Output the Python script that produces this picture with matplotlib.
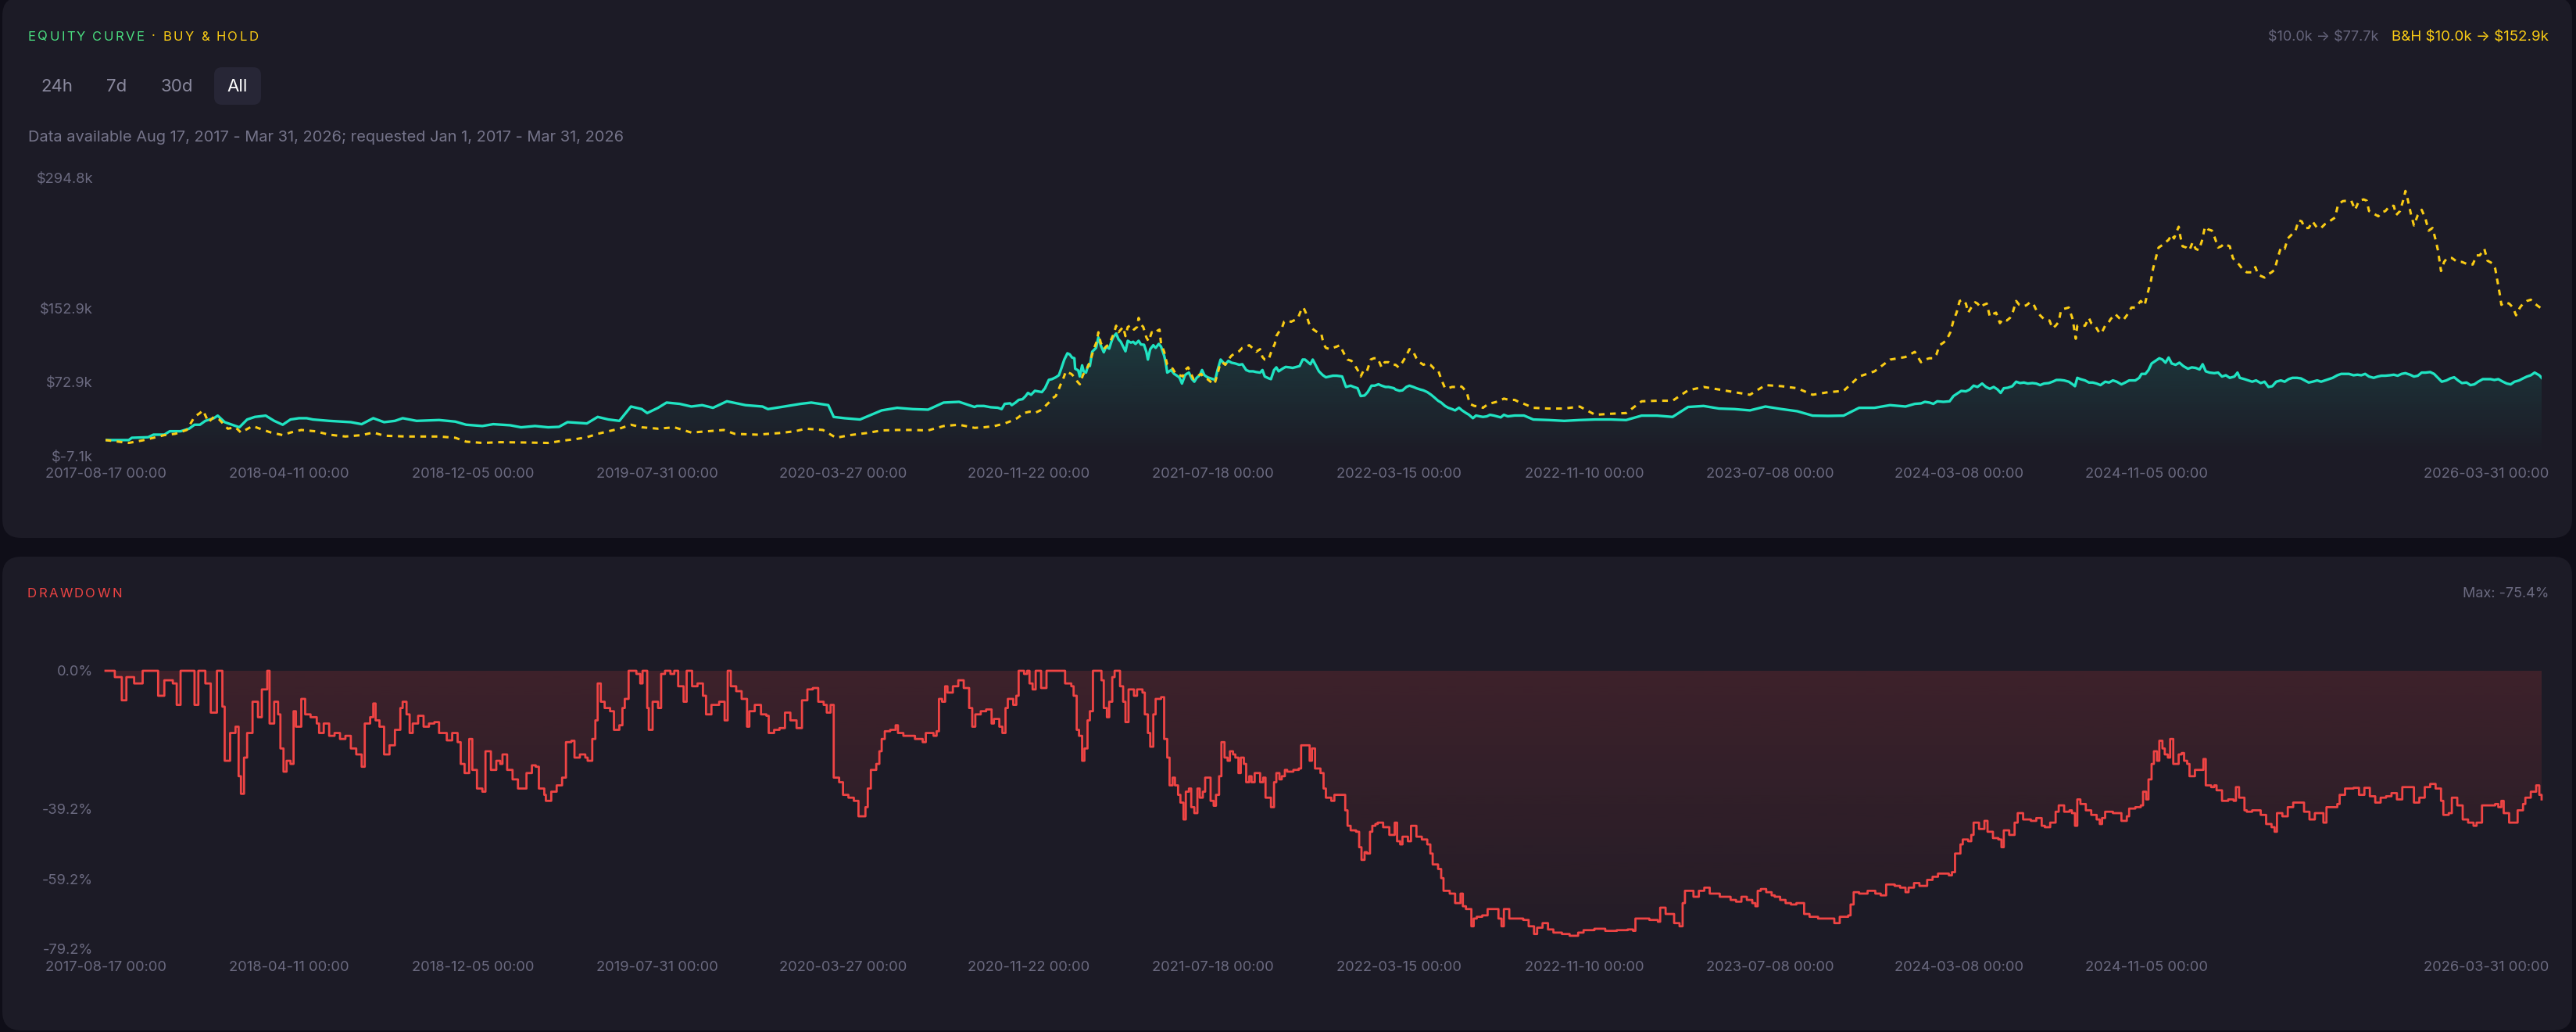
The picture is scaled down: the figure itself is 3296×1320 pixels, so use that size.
import numpy as np
import pandas as pd
import matplotlib
matplotlib.use("Agg")
import matplotlib.pyplot as plt
import matplotlib.dates as mdates
import matplotlib.colors as mcolors
from matplotlib.patches import FancyBboxPatch
from matplotlib.transforms import ScaledTranslation

plt.rcParams['font.family'] = ['Inter', 'DejaVu Sans']

# ---------------- data ----------------
START = "2017-08-17"
END = "2026-03-31"

# strategy equity: (days since START, value in $k)
strategy_points = [
    (0, 10.0), (30, 10.0), (34, 12.5), (55, 13.1), (62, 15.9), (76, 15.9), (83, 19.6),
    (97, 19.6), (108, 22.4), (115, 26.7), (122, 26.7), (129, 30.9), (140, 33.8), (145, 36.6),
    (154, 29.5), (173, 23.9), (183, 32.4), (193, 35.2), (207, 36.6), (218, 30.9), (229, 26.7),
    (239, 32.4), (250, 33.8), (260, 33.8), (268, 32.4), (289, 30.9), (317, 29.5), (331, 27.3),
    (346, 33.8), (360, 29.5), (374, 30.9), (384, 33.8), (402, 30.9), (431, 31.8), (452, 30.1),
    (466, 26.7), (487, 25.3), (501, 27.3), (523, 26.1), (537, 23.9), (555, 25.3), (572, 23.9),
    (586, 24.4), (597, 29.5), (622, 28.1), (636, 35.2), (650, 32.4), (664, 30.9), (679, 46.5),
    (693, 43.7), (700, 39.4), (714, 45.1), (725, 50.8), (742, 49.4), (757, 46.5), (771, 48.0),
    (785, 45.1), (803, 52.2), (827, 48.0), (849, 46.5), (856, 43.7), (877, 46.5), (898, 49.4),
    (912, 50.8), (934, 48.0), (941, 35.2), (955, 33.8), (975, 32.4),
    (1003, 42.3), (1023, 45.1), (1043, 43.7), (1063, 43.1), (1083, 50.8),
    (1103, 51.6), (1123, 46.0),
    (1126, 47.1), (1135, 47.1), (1144, 45.7), (1153, 45.2), (1158, 43.7), (1162, 49.4),
    (1169, 50.0), (1171, 48.0), (1176, 50.8), (1180, 53.7), (1185, 54.5), (1189, 57.9),
    (1192, 61.3), (1196, 59.3), (1201, 63.6), (1205, 63.0), (1210, 62.2), (1214, 66.4),
    (1219, 75.5), (1223, 76.3), (1228, 78.3), (1232, 80.6), (1235, 87.7), (1239, 97.6),
    (1243, 104.4), (1246, 103.2), (1249, 99.8), (1252, 99.0), (1253, 87.7), (1257, 85.7),
    (1259, 79.2), (1262, 91.3), (1264, 84.8), (1267, 83.4), (1270, 91.9), (1272, 90.5),
    (1275, 106.1), (1280, 110.3), (1283, 121.7), (1286, 113.2), (1290, 105.5), (1293, 111.7),
    (1297, 109.5), (1300, 117.4), (1302, 121.7), (1306, 125.9), (1309, 119.7), (1312, 116.9),
    (1315, 111.7), (1318, 106.6), (1321, 118.0), (1325, 116.0), (1328, 116.9), (1331, 114.6),
    (1335, 118.0), (1338, 114.0), (1342, 113.7), (1345, 106.1), (1347, 97.6), (1350, 108.9),
    (1354, 113.2), (1357, 110.3), (1361, 114.6), (1364, 111.7), (1368, 101.8), (1370, 94.7),
    (1372, 83.4), (1377, 86.2), (1381, 82.0), (1386, 79.2), (1388, 77.7), (1391, 71.5),
    (1395, 80.6), (1397, 82.0), (1400, 83.4), (1404, 76.3), (1407, 73.5), (1410, 77.7),
    (1414, 80.6), (1417, 86.2), (1420, 80.6), (1424, 78.3), (1428, 77.2), (1431, 76.3),
    (1434, 75.5), (1437, 86.2), (1441, 97.6), (1444, 94.7), (1447, 92.5), (1451, 96.2),
    (1455, 94.2), (1460, 93.3), (1465, 91.9), (1469, 92.5), (1474, 86.2), (1478, 84.8),
    (1483, 84.8), (1487, 84.0), (1492, 83.4), (1495, 86.2), (1498, 79.2), (1503, 77.2),
    (1506, 76.3), (1510, 86.2), (1513, 89.1), (1516, 84.8), (1521, 87.7), (1525, 89.6),
    (1530, 89.1), (1534, 88.5), (1539, 89.6), (1543, 90.5), (1547, 97.6), (1550, 97.6),
    (1554, 94.7), (1557, 92.5), (1560, 97.6), (1564, 91.3), (1568, 84.8), (1573, 80.6),
    (1577, 78.3), (1582, 79.2), (1586, 80.0), (1591, 80.0), (1598, 79.2), (1603, 67.8),
    (1609, 69.2), (1613, 67.8), (1618, 66.4), (1622, 57.9), (1627, 58.5), (1631, 62.2),
    (1636, 69.2), (1640, 69.2), (1645, 70.7), (1649, 69.2), (1654, 67.8), (1658, 67.8),
    (1665, 66.4), (1667, 65.0), (1672, 63.6), (1676, 64.1), (1681, 67.8), (1685, 69.2),
    (1690, 67.8), (1694, 66.4), (1699, 65.0), (1703, 64.1), (1708, 62.2), (1713, 59.3),
    (1717, 56.5), (1722, 52.8), (1726, 50.8), (1731, 47.1), (1735, 45.2), (1740, 43.7),
    (1744, 42.3), (1749, 45.2), (1753, 42.3), (1758, 39.5), (1762, 37.5), (1767, 33.8),
    (1771, 36.7), (1776, 35.8), (1780, 35.2), (1785, 35.8), (1789, 37.5), (1794, 36.7),
    (1798, 35.8), (1803, 34.7), (1807, 37.5), (1812, 35.8), (1821, 36.7), (1833, 36.7),
    (1845, 32.4), (1865, 31.8), (1885, 30.9), (1905, 31.8), (1925, 32.4), (1945, 32.4),
    (1965, 31.8), (1985, 36.6), (2005, 36.6), (2025, 35.2), (2045, 46.0), (2065, 47.1),
    (2085, 44.3), (2105, 43.7), (2125, 42.3), (2145, 46.5), (2166, 43.7), (2186, 41.4),
    (2206, 36.6), (2226, 36.3), (2246, 36.6), (2266, 45.1), (2286, 45.1), (2306, 48.0),
    (2326, 46.5),
    (2338, 49.4), (2346, 49.9), (2351, 51.6), (2357, 50.8), (2362, 49.4), (2367, 52.2),
    (2375, 51.6), (2383, 52.2), (2388, 57.9), (2393, 60.7), (2398, 63.5), (2404, 63.0),
    (2409, 65.0), (2414, 69.2), (2419, 67.8), (2425, 71.5), (2430, 67.8), (2435, 65.8),
    (2440, 67.8), (2445, 65.0), (2449, 61.3), (2453, 66.4), (2458, 66.9), (2464, 68.6),
    (2469, 73.5), (2474, 72.0), (2479, 72.6), (2484, 71.5), (2490, 72.0), (2495, 71.5),
    (2500, 69.8), (2505, 71.5), (2511, 72.0), (2516, 73.5), (2521, 75.4), (2526, 75.4),
    (2531, 74.9), (2537, 73.5), (2542, 70.6), (2545, 68.6), (2548, 77.7), (2552, 76.3),
    (2558, 74.9), (2563, 72.6), (2568, 72.6), (2573, 71.5), (2578, 69.8), (2584, 73.5),
    (2589, 72.6), (2594, 74.9), (2599, 73.5), (2605, 70.6), (2610, 72.6), (2615, 74.9),
    (2623, 74.9), (2628, 77.7), (2631, 82.0), (2636, 82.0), (2640, 86.2), (2644, 93.3),
    (2649, 96.1), (2654, 99.0), (2658, 97.6), (2662, 94.2), (2666, 99.8), (2670, 93.3),
    (2675, 91.9), (2680, 94.2), (2685, 90.5), (2691, 87.6), (2696, 89.1), (2701, 88.5),
    (2706, 86.8), (2710, 92.5), (2714, 84.8), (2719, 83.4), (2725, 82.8), (2730, 83.4),
    (2735, 79.1), (2740, 80.5), (2745, 77.7), (2751, 79.1), (2755, 83.4), (2758, 77.7),
    (2764, 76.3), (2769, 74.9), (2774, 73.5), (2779, 74.9), (2785, 72.0), (2790, 73.5),
    (2795, 67.8), (2800, 68.6), (2805, 73.5), (2811, 74.9), (2816, 73.5), (2821, 76.3),
    (2826, 77.7), (2832, 77.7), (2837, 77.1), (2842, 74.9), (2847, 72.6), (2852, 73.5),
    (2858, 74.9), (2863, 73.5), (2868, 74.9), (2873, 76.3), (2878, 77.7), (2884, 80.5),
    (2889, 82.0), (2894, 82.0), (2899, 82.0), (2905, 80.5), (2910, 81.1), (2915, 80.5),
    (2920, 82.0), (2925, 79.1), (2931, 77.7), (2936, 79.1), (2941, 80.0), (2946, 80.0),
    (2952, 80.5), (2957, 81.1), (2962, 80.0), (2967, 82.0), (2972, 82.8), (2978, 81.1),
    (2983, 79.1), (2988, 80.0), (2993, 83.4), (2998, 83.4), (3004, 84.0), (3009, 82.0),
    (3014, 77.7), (3019, 73.5), (3025, 74.9), (3030, 77.1), (3035, 78.3), (3040, 74.9),
    (3045, 72.0), (3051, 72.6), (3056, 69.8), (3061, 70.6), (3066, 73.5), (3072, 76.3),
    (3077, 76.3), (3082, 76.3), (3087, 75.4), (3092, 76.3), (3098, 73.5), (3103, 71.5),
    (3108, 70.6), (3113, 73.5), (3119, 74.9), (3124, 77.1), (3129, 79.1), (3134, 80.5),
    (3139, 83.4), (3145, 80.5), (3148, 77.7),
]

# buy & hold equity: (days since START, value in $k)
buy_hold_points = [
    (0, 10.0), (30, 6.9), (48, 9.7), (62, 12.5), (76, 15.4), (90, 16.8), (105, 21.0),
    (115, 35.2), (122, 39.4), (126, 42.3), (133, 29.5), (140, 35.2), (147, 32.4), (158, 22.4),
    (168, 23.9), (175, 18.2), (190, 25.3), (204, 21.0), (214, 18.2), (229, 15.4), (239, 18.2),
    (253, 21.0), (271, 19.6), (289, 15.9), (310, 13.9), (331, 15.4), (346, 18.2), (360, 14.8),
    (388, 13.9), (431, 13.9), (452, 12.5), (466, 8.3), (487, 6.9), (510, 7.7), (540, 7.4),
    (572, 6.9), (594, 9.7), (608, 11.1), (622, 13.1), (636, 16.8), (650, 19.6), (664, 22.4),
    (679, 26.7), (693, 23.9), (714, 22.4), (735, 23.9), (757, 18.2), (778, 19.6), (799, 21.0),
    (813, 16.8), (842, 15.9), (870, 17.6), (891, 19.6), (905, 22.4), (927, 21.0), (944, 12.5),
    (962, 15.4),
    (983, 17.6), (1003, 20.5), (1023, 21.0), (1043, 21.0), (1063, 20.5),
    (1083, 25.3), (1103, 26.7), (1123, 23.3),
    (1135, 23.9), (1149, 25.3), (1162, 28.1), (1171, 31.0), (1178, 33.8), (1187, 39.5),
    (1194, 40.9), (1201, 39.5), (1208, 42.3), (1214, 46.6), (1219, 50.8), (1223, 55.1),
    (1228, 57.9), (1231, 63.6), (1235, 72.1), (1238, 77.7), (1241, 84.8), (1244, 83.4),
    (1248, 82.0), (1253, 77.7), (1256, 73.5), (1259, 70.7), (1263, 80.6), (1266, 84.8),
    (1270, 90.5), (1273, 97.6), (1277, 108.9), (1281, 117.4), (1283, 127.3), (1286, 116.0),
    (1290, 108.9), (1293, 111.7), (1297, 114.6), (1300, 120.3), (1303, 125.9), (1306, 134.4),
    (1309, 127.3), (1312, 130.2), (1315, 133.0), (1318, 123.1), (1321, 133.0), (1325, 135.0),
    (1329, 130.2), (1333, 133.0), (1335, 142.9), (1338, 135.8), (1341, 133.0), (1345, 121.7),
    (1348, 117.4), (1352, 127.3), (1355, 125.9), (1359, 128.8), (1362, 130.2), (1364, 114.6),
    (1368, 106.1), (1370, 99.0), (1372, 91.9), (1375, 89.1), (1379, 87.7), (1383, 82.0),
    (1388, 80.6), (1392, 79.2), (1395, 86.2), (1399, 89.1), (1402, 83.4), (1406, 76.3),
    (1410, 77.7), (1413, 80.6), (1416, 82.0), (1419, 77.7), (1424, 76.3), (1428, 73.5),
    (1433, 70.7), (1437, 82.0), (1440, 91.9), (1443, 94.7), (1447, 91.9), (1451, 97.6),
    (1455, 101.8), (1460, 104.7), (1465, 106.7), (1469, 110.3), (1474, 111.7), (1478, 113.2),
    (1483, 109.5), (1487, 106.1), (1492, 108.9), (1495, 100.4), (1498, 97.6), (1503, 97.6),
    (1507, 107.5), (1511, 114.6), (1513, 123.1), (1516, 127.3), (1520, 131.6), (1523, 138.7),
    (1528, 140.1), (1532, 138.7), (1537, 140.7), (1541, 142.9), (1545, 151.4), (1548, 154.3),
    (1551, 148.6), (1555, 137.3), (1558, 133.0), (1561, 130.2), (1566, 127.3), (1571, 125.9),
    (1574, 114.6), (1577, 110.3), (1582, 108.9), (1586, 110.3), (1591, 111.7), (1595, 113.2),
    (1601, 103.2), (1605, 97.6), (1610, 96.2), (1614, 91.9), (1619, 84.8), (1622, 79.2),
    (1626, 86.2), (1630, 84.8), (1635, 97.6), (1639, 99.0), (1644, 99.0), (1649, 89.1),
    (1653, 94.7), (1658, 94.7), (1662, 91.9), (1667, 91.9), (1671, 89.1), (1676, 94.7),
    (1680, 100.4), (1685, 108.9), (1689, 107.5), (1694, 99.0), (1698, 94.7), (1703, 91.9),
    (1707, 93.3), (1712, 91.9), (1717, 87.7), (1722, 86.2), (1726, 76.3), (1731, 66.4),
    (1735, 66.4), (1740, 67.8), (1744, 67.8), (1749, 69.2), (1753, 67.8), (1759, 62.2),
    (1763, 49.4), (1769, 47.1), (1776, 46.6), (1780, 45.1), (1787, 49.4), (1794, 50.8),
    (1800, 52.2), (1807, 55.1), (1814, 53.7), (1821, 53.7), (1828, 50.8), (1833, 49.4),
    (1845, 45.1), (1865, 44.3), (1885, 44.3), (1905, 46.5), (1925, 37.5), (1945, 38.6),
    (1965, 39.4), (1985, 52.2), (2005, 52.8), (2025, 52.8), (2045, 64.1), (2065, 67.8),
    (2085, 65.0), (2105, 62.1), (2125, 59.3), (2145, 69.8), (2166, 68.6), (2186, 66.4),
    (2206, 59.3), (2226, 62.1), (2246, 63.5), (2266, 79.1), (2286, 84.8), (2306, 97.5),
    (2326, 100.4),
    (2338, 106.0), (2343, 99.0), (2346, 94.7), (2351, 97.5), (2357, 99.0), (2362, 99.0),
    (2366, 103.2), (2370, 113.1), (2375, 116.0), (2379, 118.8), (2384, 127.3), (2388, 140.1),
    (2392, 148.6), (2396, 161.3), (2400, 162.7), (2404, 158.5), (2407, 148.6), (2411, 154.2),
    (2416, 159.9), (2419, 158.5), (2423, 154.2), (2427, 157.1), (2431, 158.5), (2435, 144.3),
    (2439, 147.1), (2443, 148.6), (2448, 137.2), (2452, 141.5), (2457, 140.1), (2461, 142.9),
    (2465, 150.0), (2469, 161.3), (2473, 157.1), (2477, 155.6), (2482, 156.5), (2487, 159.9),
    (2491, 158.5), (2495, 151.4), (2500, 145.7), (2505, 141.5), (2512, 140.1), (2516, 131.6),
    (2520, 134.4), (2524, 138.6), (2527, 151.4), (2531, 152.8), (2537, 154.2), (2542, 141.5),
    (2546, 120.2), (2548, 134.4), (2552, 134.4), (2558, 134.4), (2563, 142.9), (2566, 137.2),
    (2571, 134.4), (2576, 127.3), (2579, 125.9), (2584, 134.4), (2588, 137.2), (2591, 141.5),
    (2597, 147.1), (2602, 142.9), (2607, 140.1), (2612, 145.7), (2618, 154.2), (2623, 154.2),
    (2630, 161.3), (2635, 156.5), (2638, 167.0), (2643, 182.6), (2646, 196.7), (2650, 209.5),
    (2653, 219.4), (2658, 222.2), (2662, 225.1), (2666, 227.9), (2670, 233.6), (2673, 229.3),
    (2679, 242.1), (2681, 232.2), (2684, 220.8), (2689, 219.4), (2693, 216.6), (2697, 225.1),
    (2701, 218.0), (2705, 216.6), (2709, 226.5), (2713, 242.1), (2717, 239.2), (2722, 237.8),
    (2726, 229.3), (2730, 219.4), (2734, 220.8), (2738, 223.7), (2741, 222.2), (2745, 220.8),
    (2749, 208.1), (2753, 203.8), (2757, 201.0), (2762, 195.3), (2767, 192.5), (2773, 192.5),
    (2778, 198.2), (2782, 189.7), (2786, 188.2), (2790, 186.8), (2793, 189.7), (2799, 192.5),
    (2803, 195.3), (2807, 208.1), (2811, 219.4), (2816, 218.0), (2820, 229.3), (2825, 233.6),
    (2830, 237.8), (2834, 249.2), (2838, 247.8), (2842, 240.7), (2847, 240.7), (2852, 247.8),
    (2858, 240.7), (2863, 240.7), (2868, 244.9), (2872, 246.3), (2876, 249.2), (2881, 252.0),
    (2885, 266.2), (2891, 269.9), (2897, 270.4), (2902, 270.4), (2907, 260.5), (2912, 270.4),
    (2918, 271.8), (2922, 270.4), (2925, 259.1), (2931, 256.3), (2937, 253.4), (2941, 257.7),
    (2946, 259.1), (2952, 264.8), (2957, 264.8), (2960, 254.8), (2965, 259.1), (2970, 273.3),
    (2972, 281.0), (2975, 271.8), (2979, 256.3), (2983, 243.5), (2988, 254.8), (2993, 260.5),
    (2998, 250.6), (3002, 237.8), (3007, 240.7), (3011, 227.9), (3014, 216.6), (3018, 193.9),
    (3022, 203.8), (3026, 208.1), (3032, 208.1), (3039, 203.8), (3045, 203.8), (3053, 201.0),
    (3059, 201.0), (3064, 210.9), (3068, 210.9), (3074, 218.0), (3078, 205.2), (3084, 202.4),
    (3088, 196.7), (3091, 182.6), (3094, 168.4), (3096, 157.1), (3100, 159.9), (3106, 158.5),
    (3111, 154.2), (3115, 145.7), (3120, 154.2), (3124, 158.5), (3129, 161.3), (3134, 162.7),
    (3139, 158.5), (3148, 152.9),
]

# drawdown: (days since START, drawdown %)
drawdown_points = [
    (0, 0.0), (12, -1.8), (21, -8.4), (27, -1.8), (37, -3.6), (48, 0.0), (62, 0.0),
    (68, -7.1), (76, -2.7), (87, -3.6), (92, -9.7), (97, 0.0), (112, 0.0), (115, -9.7),
    (120, 0.0), (129, -3.6), (136, -11.9), (144, 0.0), (151, -10.2), (154, -25.6),
    (161, -17.7), (168, -15.9), (172, -30.0), (175, -35.0), (179, -24.7), (183, -17.7),
    (190, -8.8), (197, -13.2), (202, -5.3), (209, 0.0), (212, -15.0), (218, -8.8),
    (223, -12.4), (226, -22.1), (230, -28.7), (234, -25.6), (239, -26.5), (243, -11.5),
    (246, -15.9), (253, -8.0), (258, -12.4), (265, -13.2), (273, -15.0), (276, -17.7),
    (282, -15.0), (289, -18.5), (296, -17.7), (303, -19.4), (310, -18.5), (317, -22.1),
    (324, -23.8), (331, -27.3), (335, -15.0), (342, -13.2), (346, -9.3), (349, -14.1),
    (354, -15.9), (360, -23.8), (367, -21.2), (374, -16.8), (381, -10.6), (384, -8.8),
    (389, -12.4), (393, -17.7), (397, -15.0), (404, -12.8), (411, -15.9), (418, -15.0),
    (425, -14.6), (431, -17.7), (441, -19.8), (448, -17.7), (455, -20.3), (459, -26.5),
    (464, -29.1), (470, -19.4), (474, -28.2), (480, -33.5), (487, -34.4), (491, -22.9),
    (498, -28.2), (505, -25.6), (510, -26.5), (513, -23.8), (519, -28.2), (526, -30.9),
    (533, -33.5), (544, -29.1), (551, -26.9), (556, -27.3), (560, -33.5), (567, -35.3),
    (569, -37.0), (576, -34.4), (583, -32.6), (590, -30.4), (595, -20.3), (602, -19.9),
    (606, -24.7), (613, -23.8), (620, -24.7), (623, -25.6), (629, -19.4), (633, -14.1),
    (636, -3.6), (640, -8.8), (645, -10.6), (652, -11.5), (657, -16.8), (664, -15.5),
    (668, -10.6), (671, -8.0), (676, 0.0), (686, -0.9), (691, -3.6), (694, 0.0),
    (700, -10.6), (702, -16.8), (707, -8.8), (714, -10.6), (718, -0.9), (723, 0.0),
    (730, -0.9), (735, 0.0), (740, -4.4), (747, -8.8), (751, 0.0), (758, -4.4),
    (765, -3.6), (772, -7.1), (776, -12.4), (783, -9.7), (793, -8.8), (800, -14.1),
    (804, 0.0), (808, -4.4), (815, -5.8), (822, -8.0), (829, -15.9), (832, -11.5),
    (839, -9.7), (847, -12.4), (854, -12.8), (857, -17.7), (864, -16.8), (871, -16.3),
    (878, -11.9), (885, -14.1), (893, -16.3), (900, -8.4), (907, -5.3), (914, -4.9),
    (921, -8.8), (928, -9.7), (932, -11.9), (937, -9.7), (941, -30.4), (948, -31.7),
    (953, -35.3), (960, -36.1), (967, -37.0), (973, -41.4),
    (982, -38.8), (985, -33.5), (989, -28.2), (996, -26.5), (1000, -22.9), (1003, -19.4),
    (1007, -17.2), (1014, -16.8), (1021, -15.5), (1024, -17.7), (1031, -18.5), (1046, -19.4),
    (1056, -20.3), (1060, -17.7), (1070, -18.5), (1074, -17.2), (1077, -8.0), (1081, -8.8),
    (1085, -4.4), (1088, -6.2), (1095, -4.4), (1102, -2.7), (1109, -4.9), (1116, -10.6),
    (1120, -15.9), (1124, -12.4), (1131, -11.5), (1138, -11.0), (1145, -15.0), (1148, -13.7),
    (1155, -15.9), (1159, -17.7), (1163, -10.6), (1166, -8.0), (1173, -9.7), (1177, -7.1),
    (1180, 0.0), (1187, -0.9), (1191, 0.0), (1194, -3.6), (1198, -5.3), (1202, 0.0),
    (1209, -4.9), (1216, 0.0), (1237, 0.0), (1240, -3.6), (1248, -4.4), (1251, -7.1),
    (1255, -16.8), (1258, -18.5), (1262, -25.6), (1265, -22.1), (1269, -14.1), (1272, -11.5),
    (1276, 0.0), (1283, 0.0), (1287, -2.7), (1290, -10.6), (1294, -13.2), (1297, -8.8),
    (1301, -1.8), (1304, 0.0), (1308, 0.0), (1311, -4.4), (1315, -8.8), (1318, -14.6),
    (1322, -5.3), (1329, -7.1), (1333, -5.3), (1340, -6.2), (1343, -12.4), (1347, -17.7),
    (1350, -21.6), (1354, -12.4), (1357, -8.0), (1364, -7.5), (1368, -19.4), (1372, -24.7),
    (1375, -32.6), (1379, -30.4), (1382, -32.6), (1386, -35.3), (1389, -37.5), (1393, -42.3),
    (1396, -34.4), (1400, -33.5), (1403, -38.8), (1407, -40.5), (1411, -33.5), (1414, -36.1),
    (1418, -34.4), (1421, -30.4), (1428, -37.0), (1432, -38.4), (1435, -35.3), (1439, -30.0),
    (1442, -20.3), (1446, -24.7), (1450, -25.6), (1453, -22.9), (1457, -23.8), (1460, -24.7),
    (1464, -29.1), (1467, -24.7), (1471, -26.5), (1474, -31.7), (1478, -30.0), (1481, -31.7),
    (1485, -29.1), (1492, -31.7), (1496, -30.4), (1499, -36.1), (1506, -38.8), (1510, -31.7),
    (1513, -29.1), (1517, -30.9), (1520, -30.0), (1524, -28.2), (1527, -28.7), (1535, -28.2),
    (1542, -27.8), (1545, -21.2), (1552, -21.2), (1556, -25.6), (1559, -22.1), (1563, -27.8),
    (1570, -29.1), (1574, -33.5), (1577, -36.1), (1584, -37.0), (1588, -35.3), (1598, -35.3),
    (1602, -39.7), (1605, -44.1), (1609, -45.4), (1616, -45.8), (1620, -50.2), (1623, -53.8),
    (1627, -51.6), (1630, -52.0), (1634, -45.8), (1637, -44.1), (1641, -43.6), (1644, -43.2),
    (1651, -44.5), (1659, -46.7), (1666, -43.2), (1669, -48.5), (1673, -49.4), (1676, -47.2),
    (1683, -48.5), (1687, -44.1), (1694, -47.2), (1701, -48.0), (1708, -49.4), (1712, -52.0),
    (1715, -55.1), (1722, -56.4), (1726, -59.0), (1729, -62.6), (1737, -63.4), (1744, -66.1),
    (1751, -63.4), (1754, -67.0), (1758, -67.8), (1765, -72.7), (1768, -70.5), (1772, -70.0),
    (1779, -69.6), (1786, -67.8), (1793, -67.8), (1800, -70.5), (1804, -72.7), (1807, -67.8),
    (1814, -70.5), (1822, -70.5), (1832, -70.9), (1839, -72.7), (1846, -74.9), (1850, -73.1),
    (1857, -71.8), (1864, -73.6), (1871, -74.5), (1882, -74.9), (1892, -75.4), (1903, -74.5),
    (1910, -73.8), (1924, -73.4), (1938, -74.0), (1953, -73.8), (1967, -73.6), (1974, -74.0),
    (1977, -70.5), (1988, -70.5), (1995, -70.9), (2006, -71.4), (2009, -67.4), (2016, -69.2),
    (2027, -71.8), (2034, -72.7), (2038, -66.1), (2041, -62.6), (2052, -64.3), (2059, -62.6),
    (2066, -61.7), (2073, -63.4), (2086, -64.3),
    (2100, -65.2), (2107, -65.7), (2114, -64.3), (2121, -65.2), (2128, -66.1), (2132, -67.0),
    (2135, -62.6), (2139, -62.1), (2146, -63.0), (2153, -63.9), (2157, -64.3), (2164, -65.2),
    (2171, -66.1), (2178, -66.5), (2185, -66.1), (2192, -66.1), (2195, -69.2), (2202, -70.0),
    (2213, -70.5), (2224, -70.5), (2234, -71.8), (2241, -70.0), (2252, -69.6), (2255, -66.5),
    (2259, -63.0), (2266, -63.4), (2277, -62.6), (2287, -63.4), (2294, -63.9), (2301, -60.8),
    (2312, -61.2), (2319, -61.7), (2326, -63.0), (2330, -61.7), (2337, -60.4), (2344, -61.2),
    (2351, -61.2), (2354, -59.5), (2361, -58.6), (2368, -57.7), (2375, -57.7), (2382, -58.2),
    (2386, -57.3), (2390, -52.0), (2397, -49.4), (2400, -48.0), (2407, -48.5), (2411, -46.7),
    (2414, -43.2), (2421, -45.0), (2428, -42.7), (2432, -45.8), (2439, -47.6), (2446, -48.0),
    (2450, -50.2), (2453, -45.4), (2460, -46.7), (2467, -43.2), (2471, -40.5), (2478, -42.3),
    (2488, -42.7), (2495, -41.9), (2502, -44.1), (2506, -44.5), (2513, -43.2), (2520, -40.1),
    (2524, -38.3), (2531, -40.1), (2538, -39.7), (2541, -40.5), (2545, -44.1), (2548, -36.6),
    (2552, -37.9), (2559, -39.7), (2566, -41.0), (2573, -42.3), (2577, -43.6), (2580, -41.9),
    (2584, -40.1), (2594, -40.5), (2601, -40.5), (2605, -42.7), (2612, -41.4), (2615, -39.2),
    (2623, -38.8), (2630, -38.3), (2633, -34.4), (2637, -36.6), (2640, -30.9), (2644, -26.5),
    (2647, -22.9), (2651, -25.6), (2654, -19.9), (2658, -22.1), (2661, -23.8), (2665, -24.7),
    (2668, -19.4), (2672, -26.5), (2679, -23.8), (2683, -23.4), (2686, -25.6), (2690, -26.5),
    (2693, -30.0), (2700, -28.2), (2707, -28.2), (2711, -25.1), (2714, -32.6), (2721, -33.1),
    (2725, -32.6), (2728, -34.0), (2735, -37.0), (2743, -36.6), (2750, -37.0), (2753, -33.1),
    (2757, -36.1), (2764, -39.7), (2767, -40.1), (2774, -39.7), (2785, -41.0), (2792, -43.6),
    (2799, -44.5), (2803, -45.8), (2806, -40.5), (2813, -41.4), (2820, -38.8), (2827, -37.5),
    (2834, -37.5), (2841, -40.1), (2848, -42.3), (2855, -40.5), (2863, -40.5), (2866, -43.2),
    (2870, -38.8), (2877, -38.8), (2884, -37.9), (2887, -35.3), (2894, -33.5), (2905, -33.3),
    (2912, -35.3), (2919, -33.3), (2926, -35.7), (2933, -37.5), (2940, -36.1), (2947, -35.7),
    (2954, -34.8), (2961, -36.6), (2968, -33.1), (2976, -33.1), (2983, -37.5), (2990, -36.1),
    (2997, -33.1), (3004, -32.2), (3011, -33.5), (3018, -37.0), (3021, -41.0), (3028, -40.5),
    (3032, -36.1), (3039, -38.3), (3046, -42.3), (3053, -43.2), (3060, -44.1), (3064, -43.2),
    (3071, -38.3), (3081, -38.3), (3088, -37.9), (3092, -38.8), (3096, -37.0), (3099, -40.5),
    (3106, -43.2), (3113, -43.2), (3117, -39.7), (3124, -37.9), (3127, -36.1), (3134, -34.4),
    (3141, -32.6), (3145, -35.3), (3148, -36.6),
]

x_tick_dates = ["2017-08-17", "2018-04-11", "2018-12-05", "2019-07-31",
                "2020-03-27", "2020-11-22", "2021-07-18", "2022-03-15",
                "2022-11-10", "2023-07-08", "2024-03-08", "2024-11-05",
                "2026-03-31"]
equity_ticks = [-7.1, 72.9, 152.9, 294.8]
equity_tick_labels = ["$-7.1k", "$72.9k", "$152.9k", "$294.8k"]
drawdown_ticks = [-79.2, -59.2, -39.2, 0.0]
drawdown_tick_labels = ["-79.2%", "-59.2%", "-39.2%", "0.0%"]

range_buttons = ["24h", "7d", "30d", "All"]
subtitle = "Data available Aug 17, 2017 - Mar 31, 2026; requested Jan 1, 2017 - Mar 31, 2026"
strategy_summary = "$10.0k \u2192 $77.7k"
bh_summary = "B&H $10.0k \u2192 $152.9k"
max_dd_label = "Max: -75.4%"

# ---------------- style ----------------
W, H, DPI = 3296, 1320, 100
BG = "#0f0e18"
CARD = "#1c1b26"
MUTED = "#6b6a80"
TEAL = "#20e3c2"
GOLD = "#facc15"
RED = "#ef4444"
GREEN = "#4ade80"

start_ts = pd.Timestamp(START)
end_num = mdates.date2num(pd.Timestamp(END))
start_num = mdates.date2num(start_ts)


def to_xy(points):
    days = [d for d, _ in points]
    vals = [v for _, v in points]
    x = mdates.date2num(start_ts + pd.to_timedelta(days, unit="D"))
    return np.asarray(x), np.asarray(vals)


eq_x, eq_y = to_xy(strategy_points)
bh_x, bh_y = to_xy(buy_hold_points)
dd_x, dd_y = to_xy(drawdown_points)
tick_num = mdates.date2num(pd.to_datetime(x_tick_dates))
tick_labels = [d + " 00:00" for d in x_tick_dates]

fig = plt.figure(figsize=(W / DPI, H / DPI), dpi=DPI, facecolor=BG)

bg = fig.add_axes([0, 0, 1, 1], zorder=-10)
bg.set_xlim(0, W)
bg.set_ylim(H, 0)
bg.axis("off")
for y0, y1 in [(-4, 688), (712, 1318)]:
    bg.add_patch(FancyBboxPatch((3, y0), 3288, y1 - y0,
                                boxstyle="round,pad=0,rounding_size=24",
                                fc=CARD, ec="none"))

renderer = fig.canvas.get_renderer()


def tracked_text(ax, x, y, s, tracking, **kw):
    for ch in s:
        if ch == " ":
            x += kw.get("fontsize", 12) * 0.28 * DPI / 72 + tracking
            continue
        t = ax.text(x, y, ch, ha="left", va="center", **kw)
        bb = t.get_window_extent(renderer)
        x += bb.width + tracking
    return x


tracked_text(bg, 36, 47, "EQUITY CURVE", 2.3, fontsize=12, color=GREEN)
tracked_text(bg, 194, 47, "\u00b7 BUY & HOLD", 2.3, fontsize=12, color=GOLD)
tracked_text(bg, 35, 759, "DRAWDOWN", 2.3, fontsize=12, color=RED)

# range buttons
bg.add_patch(FancyBboxPatch((274, 86), 60, 48,
                            boxstyle="round,pad=0,rounding_size=10",
                            fc="#272636", ec="none"))
for lab, cx in zip(range_buttons, [73, 149, 226, 304]):
    bg.text(cx, 111, lab, ha="center", va="center", fontsize=16,
            color="white" if lab == "All" else "#8a899e")

bg.text(36, 176, subtitle, ha="left", va="center", fontsize=14.4,
        color="#75748a", parse_math=False)
bg.text(3261, 48, bh_summary, ha="right", va="center", fontsize=13.5,
        color=GOLD, parse_math=False)
bg.text(3043, 48, strategy_summary, ha="right", va="center", fontsize=13,
        color="#66657c", parse_math=False)
bg.text(3261, 759, max_dd_label, ha="right", va="center", fontsize=13,
        color=MUTED, parse_math=False)


def px_rect(x0, y0, x1, y1):
    return [x0 / W, 1 - y1 / H, (x1 - x0) / W, (y1 - y0) / H]


def style_axes(ax):
    ax.set_facecolor("none")
    for sp in ax.spines.values():
        sp.set_visible(False)
    ax.tick_params(axis="both", length=0, labelsize=13.2, labelcolor=MUTED)
    ax.tick_params(axis="x", pad=10.5)
    ax.tick_params(axis="y", pad=11.5)
    ax.set_xticks(tick_num)
    ax.set_xticklabels(tick_labels)
    lbls = ax.get_xticklabels()
    lbls[-1].set_ha("right")
    lbls[-1].set_transform(lbls[-1].get_transform() +
                           ScaledTranslation(9 / DPI, 0, fig.dpi_scale_trans))


def gradient_fill(ax, x, y, base, color, a_top, a_bot, y_top, y_bot, step=None):
    poly = ax.fill_between(x, y, base, step=step, facecolor="none",
                           edgecolor="none")
    path = poly.get_paths()[0]
    rgb = mcolors.to_rgb(color)
    n = 256
    grad = np.zeros((n, 1, 4))
    grad[:, 0, :3] = rgb
    grad[:, 0, 3] = np.linspace(a_bot, a_top, n)
    im = ax.imshow(grad, aspect="auto", origin="lower",
                   extent=[x[0], x[-1], y_bot, y_top], zorder=1,
                   interpolation="bilinear")
    im.set_clip_path(path, transform=ax.transData)


# ---------------- equity panel ----------------
ax1 = fig.add_axes(px_rect(135, 228, 3252, 583))
style_axes(ax1)
gradient_fill(ax1, eq_x, eq_y, -7.1, TEAL, 0.16, 0.0, eq_y.max(), -7.1)
ax1.plot(eq_x, eq_y, color=TEAL, lw=2.4, zorder=3)
ax1.plot(bh_x, bh_y, color=GOLD, lw=2.2, ls=(0, (2.4, 2.3)), zorder=4)
ax1.set_xlim(start_num, end_num)
ax1.set_ylim(-7.1, 294.8)
ax1.set_yticks(equity_ticks)
ax1.set_yticklabels(equity_tick_labels)

# ---------------- drawdown panel ----------------
ax2 = fig.add_axes(px_rect(135, 858, 3252, 1214))
style_axes(ax2)
gradient_fill(ax2, dd_x, dd_y, 0.0, RED, 0.16, 0.03, 0.0, -79.2, step="post")
ax2.plot(dd_x, dd_y, color=RED, lw=2.0, drawstyle="steps-post",
         zorder=3, clip_on=False)
ax2.set_xlim(start_num, end_num)
ax2.set_ylim(-79.2, 0.0)
ax2.set_yticks(drawdown_ticks)
ax2.set_yticklabels(drawdown_tick_labels)

fig.savefig("out.png", dpi=DPI, facecolor=BG)
